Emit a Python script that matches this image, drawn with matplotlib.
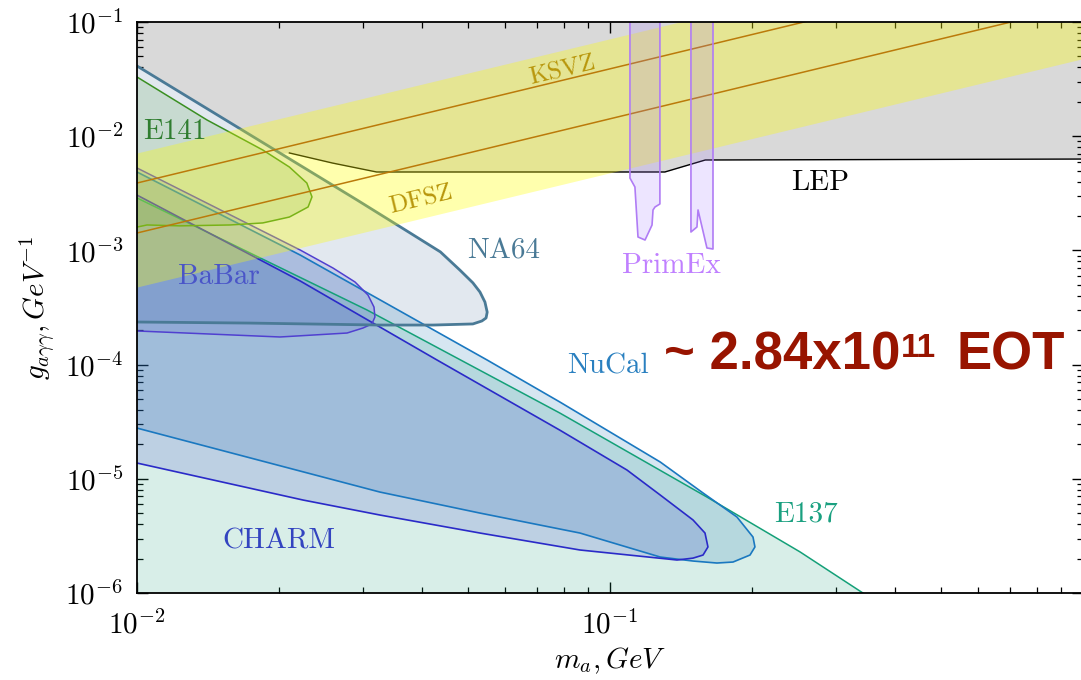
import matplotlib
matplotlib.use("Agg")
import numpy as np
import matplotlib.pyplot as plt
from matplotlib.ticker import FuncFormatter

plt.rcParams['mathtext.fontset'] = 'cm'
plt.rcParams['font.family'] = 'cmr10'
plt.rcParams['axes.formatter.use_mathtext'] = True

# --- limits (m_a in GeV, g_agg in GeV^-1) ---
lep_m = [0.01, 0.0210, 0.0259, 0.0321, 0.1306, 0.159, 1.0]
lep_g = [7.13e-3, 7.13e-3, 5.82e-3, 4.86e-3, 4.86e-3, 6.19e-3, 6.31e-3]

na64_m = [0.01, 0.0292, 0.0378, 0.0438, 0.0482, 0.0513, 0.0531, 0.0544, 0.0550,
          0.0547, 0.0536, 0.0513, 0.0423, 0.0327, 0.0173, 0.01]
na64_g = [4.12e-2, 2.76e-3, 1.42e-3, 9.7e-4, 6.7e-4, 5.2e-4, 4.32e-4, 3.53e-4, 2.88e-4,
          2.56e-4, 2.41e-4, 2.27e-4, 2.22e-4, 2.22e-4, 2.31e-4, 2.36e-4]

e141_m = [0.01, 0.01406, 0.01845, 0.0210, 0.02286, 0.02344, 0.0230, 0.0210,
          0.01845, 0.01574, 0.01233, 0.0105, 0.01]
e141_g = [3.30e-2, 1.387e-2, 7.57e-3, 5.37e-3, 3.89e-3, 2.94e-3, 2.40e-3, 1.96e-3,
          1.74e-3, 1.67e-3, 1.64e-3, 1.67e-3, 1.60e-3]

babar_m = [0.01, 0.02213, 0.02596, 0.0289, 0.03078, 0.0317, 0.03184, 0.03138,
           0.03004, 0.0278, 0.02006, 0.01]
babar_g = [5.27e-3, 1.008e-3, 7.01e-4, 5.29e-4, 4.07e-4, 3.19e-4, 2.61e-4, 2.27e-4,
           2.09e-4, 1.89e-4, 1.745e-4, 1.97e-4]

charm_m = [0.01, 0.02213, 0.0431, 0.0783, 0.1086, 0.1277, 0.1498, 0.1588, 0.1611,
           0.1573, 0.1498, 0.1386, 0.0864, 0.0531, 0.0326, 0.02243, 0.01]
charm_g = [3.05e-3, 5.40e-4, 1.096e-4, 2.67e-5, 1.194e-5, 7.21e-6, 4.36e-6, 3.35e-6, 2.53e-6,
           2.15e-6, 2.02e-6, 1.945e-6, 2.38e-6, 3.35e-6, 4.82e-6, 6.52e-6, 1.374e-5]

nucal_m = [0.01, 0.02213, 0.0550, 0.0783, 0.1277, 0.1573, 0.1855, 0.2006, 0.2025,
           0.1977, 0.1820, 0.1683, 0.1498, 0.1277, 0.0864, 0.0531, 0.0326, 0.01]
nucal_g = [4.86e-3, 9.11e-4, 1.096e-4, 4.71e-5, 1.403e-5, 7.51e-6, 4.63e-6, 3.09e-6, 2.53e-6,
           2.15e-6, 1.867e-6, 1.83e-6, 1.905e-6, 2.065e-6, 3.35e-6, 5.01e-6, 7.66e-6, 2.78e-5]

e137_m = [0.01, 0.03063, 0.0783, 0.1603, 0.2522, 0.3425]
e137_g = [2.88e-3, 3.01e-4, 3.77e-5, 6.92e-6, 2.29e-6, 1.0e-6]

primex1_m = [0.1102, 0.1102, 0.1129, 0.1146, 0.1186, 0.1227, 0.1233, 0.1245, 0.1275, 0.1275]
primex1_g = [0.1, 4.30e-3, 3.59e-3, 1.31e-3, 1.233e-3, 1.668e-3, 2.26e-3, 2.40e-3, 2.55e-3, 0.1]
primex2_m = [0.1483, 0.1483, 0.1527, 0.1535, 0.1603, 0.1651, 0.1651]
primex2_g = [0.1, 1.449e-3, 1.603e-3, 2.26e-3, 1.05e-3, 1.028e-3, 0.1]

# QCD axion band and model lines
band_m = [0.01, 1.0]
band_lo = [4.78e-4, 4.78e-2]
band_hi = [7.13e-3, 0.713]
ksvz_g = [3.89e-3, 0.389]
dfsz_g = [1.42e-3, 0.142]


def x_label_fmt(v, pos):
    """10^n labels, the one at 10^0 sits outside the crop and is left out."""
    if v >= 1:
        return ''
    return r'$\mathdefault{10^{%d}}$' % int(round(np.log10(v)))


W, H = 1081, 680
fig = plt.figure(figsize=(W / 100, H / 100), dpi=100)
ax = fig.add_axes([137 / W, 1 - 593 / H, 946 / W, 571 / H])
ax.set_xscale('log')
ax.set_yscale('log')

# filled regions
ax.fill_between(lep_m, lep_g, 0.1, color='#d9d9d9', lw=0, zorder=1)
ax.fill(na64_m, na64_g, facecolor='#e2e8ef', edgecolor='none', zorder=2)
ax.fill(e137_m + [e137_m[0]], e137_g + [e137_g[-1]], facecolor='#1b9e77', alpha=0.17,
        edgecolor='none', zorder=2.1)
ax.fill(nucal_m, nucal_g, facecolor='#1f78b4', alpha=0.18, edgecolor='none', zorder=2.2)
ax.fill(charm_m, charm_g, facecolor='#2828c8', alpha=0.15, edgecolor='none', zorder=2.3)
ax.fill(babar_m, babar_g, facecolor='#4040c0', alpha=0.15, edgecolor='none', zorder=2.4)
ax.fill(e141_m, e141_g, facecolor='#2e8b20', alpha=0.15, edgecolor='none', zorder=2.5)

# outlines
ax.plot(lep_m[1:], lep_g[1:], color='black', lw=1.0, zorder=3)
ax.plot(e137_m, e137_g, color='#14a078', lw=1.1, zorder=3)
ax.plot(nucal_m, nucal_g, color='#1a78c0', lw=1.2, zorder=3)
ax.plot(charm_m, charm_g, color='#2a2ac8', lw=1.2, zorder=3)
ax.plot(babar_m, babar_g, color='#5040d0', lw=1.1, zorder=3)
ax.plot(e141_m, e141_g, color='#3a8f22', lw=1.1, zorder=3)
ax.plot(na64_m, na64_g, color='#4a7a96', lw=2.0, zorder=3.1, solid_joinstyle='round')

# axion band
ax.fill_between(band_m, band_lo, band_hi, color='yellow', alpha=0.32, lw=0, zorder=4)
ax.plot(band_m, ksvz_g, color='#bb7a0a', lw=1.1, zorder=4.1)
ax.plot(band_m, dfsz_g, color='#bb7a0a', lw=1.1, zorder=4.1)

# PrimEx
for pm, pg in [(primex1_m, primex1_g), (primex2_m, primex2_g)]:
    ax.fill(pm, pg, facecolor='#a070ff', alpha=0.18, edgecolor='none', zorder=5)
    ax.plot(pm, pg, color='#b07cf5', lw=1.2, zorder=5.1)

ax.set_xlim(1e-2, 1)
ax.set_ylim(1e-6, 1e-1)
ax.xaxis.set_major_formatter(FuncFormatter(x_label_fmt))

# labels on the regions
fs = 21
lab = dict(transform=ax.transAxes, fontsize=fs, family='cmr10', zorder=6)
ax.text(0.0063, 0.807, 'E141', color='#2f7d2f', ha='left', va='center', **lab)
ax.text(0.0867, 0.553, 'BaBar', color='#4a55c8', ha='center', va='center', **lab)
ax.text(0.388, 0.599, 'NA64', color='#4a7a96', ha='center', va='center', **lab)
ax.text(0.5645, 0.573, 'PrimEx', color='#c080ff', ha='center', va='center', **lab)
ax.text(0.498, 0.397, 'NuCal', color='#2a80c0', ha='center', va='center', **lab)
ax.text(0.150, 0.091, 'CHARM', color='#3344c0', ha='center', va='center', **lab)
ax.text(0.707, 0.137, 'E137', color='#1aa080', ha='center', va='center', **lab)
ax.text(0.722, 0.718, 'LEP', color='black', ha='center', va='center', **lab)
ax.text(0.450, 0.914, 'KSVZ', color='#b8960b', ha='center', va='center',
        rotation=13.5, transform=ax.transAxes, fontsize=18, zorder=6)
ax.text(0.300, 0.688, 'DFSZ', color='#b8960b', ha='center', va='center',
        rotation=13.5, transform=ax.transAxes, fontsize=18, zorder=6)

# EOT annotation, bold sans
red = '#981400'
eot = dict(color=red, family='Liberation Sans', weight='bold', va='baseline',
           transform=fig.transFigure)
fig.text(664 / W, 1 - 370 / H, '~ 2.84x10', fontsize=38, **eot)
fig.text(901 / W, 1 - 357 / H, '11', fontsize=24, **eot)
fig.text(956 / W, 1 - 370 / H, 'EOT', fontsize=38, **eot)

ax.set_xlabel(r'$m_a, GeV$', fontsize=fs, labelpad=5)
ax.set_ylabel(r'$g_{a\gamma\gamma}, GeV^{-1}$', fontsize=fs, labelpad=6)

ax.tick_params(which='both', direction='in', top=True, right=True)
ax.tick_params(which='major', length=8, width=1)
ax.tick_params(which='minor', length=4.5, width=0.9)
ax.tick_params(axis='x', which='major', labelsize=fs, pad=12)
ax.tick_params(axis='y', which='major', labelsize=fs, pad=10)
for s in ax.spines.values():
    s.set_linewidth(1.3)
    s.set_zorder(7)

fig.savefig('out.png', dpi=100)
